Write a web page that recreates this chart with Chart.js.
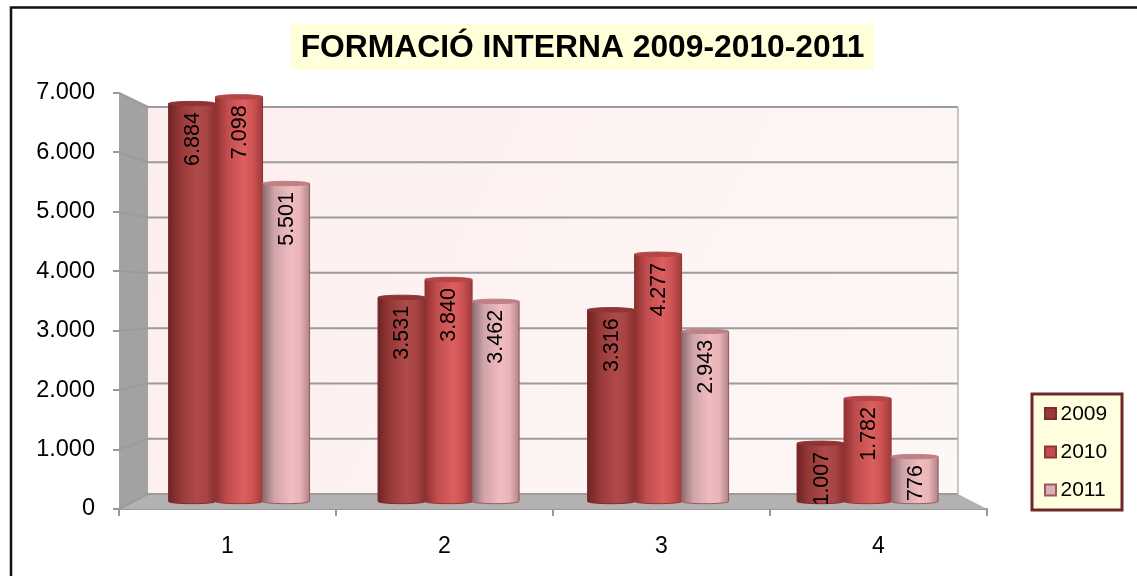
<!DOCTYPE html>
<html><head><meta charset="utf-8">
<style>html,body{margin:0;padding:0;background:#fff}#w{width:1137px;height:576px}</style>
<script src="https://cdn.jsdelivr.net/npm/chart.js@4"></script></head>
<body><div id="w"><canvas id="c" width="1137" height="576"></canvas></div>
<script>
const categories = ['1','2','3','4'];
const years = ['2009','2010','2011'];
const values2009 = [6884,3531,3316,1007];
const values2010 = [7098,3840,4277,1782];
const values2011 = [5501,3462,2943,776];
const yTicks = [0,1000,2000,3000,4000,5000,6000,7000];
const titleText = 'FORMACIÓ INTERNA 2009-2010-2011';

const fmt = v => String(v).replace(/\B(?=(\d{3})+$)/g,'.');
const FONT = '"Liberation Sans", Arial, sans-serif';
const shades = [
  {base:'#9c3a3a',stops:['#6e2424','#963838','#b04a4a','#a84444','#8a3030'],edge:'#7e2c2c',cap:'#8f3434'},
  {base:'#c44e4e',stops:['#8e3030','#c04c4c','#dd5f5f','#cc5252','#a03a3a'],edge:'#963434',cap:'#b54646'},
  {base:'#dcb0b4',stops:['#8a6a6c','#d0a4a8','#f0bcc0','#eab4b8','#b08488'],edge:'#9a5a60',cap:'#c08086'}
];
const backTop=107, backBottom=494, backLeft=148, backRight=958;

const scene = {
  id:'scene',
  beforeDraw(chart){
    const {ctx,width}=chart;
    ctx.save();
    ctx.fillStyle='#fff';ctx.fillRect(0,0,width,576);
    ctx.strokeStyle='#111';ctx.lineWidth=2.5;
    ctx.beginPath();ctx.moveTo(11,576);ctx.lineTo(11,7.5);ctx.lineTo(1137,7.5);ctx.stroke();
    // title
    ctx.font='bold 31.8px '+FONT;
    ctx.fillStyle='#ffffd9';ctx.fillRect(291,24,583,46);
    ctx.fillStyle='#000';ctx.textAlign='center';ctx.textBaseline='middle';
    ctx.fillText(titleText,582.5,48);
    // legend box
    ctx.fillStyle='#ffffe0';ctx.strokeStyle='#6e2a2a';ctx.lineWidth=3;
    ctx.fillRect(1032,394,90,116);ctx.strokeRect(1032,394,90,116);
    [413.5,452,490].forEach((cy,i)=>{
      const s=shades[i];
      ctx.fillStyle=s.base;ctx.strokeStyle=s.edge;ctx.lineWidth=2;
      ctx.fillRect(1045,cy-5.5,11,11);ctx.strokeRect(1045,cy-5.5,11,11);
    });
    const l=chart.legend;
    if(l){const w=l.width,h=l.height;l.left=1027;l.right=1027+w;l.top=386.5;l.bottom=386.5+h;}
    ctx.restore();
  },
  beforeDatasetsDraw(chart){
    const {ctx,chartArea:a,scales:{y}}=chart;
    const f=v=>y.getPixelForValue(v);
    const b=v=>backBottom+(backTop-backBottom)*v/7000;
    ctx.save();
    const g=ctx.createLinearGradient(backLeft,backTop,backRight,backBottom);
    g.addColorStop(0,'#fdeeee');g.addColorStop(.5,'#fdf3f2');g.addColorStop(1,'#fdf7f6');
    ctx.fillStyle=g;ctx.fillRect(backLeft,backTop,backRight-backLeft,backBottom-backTop);
    // left wall
    ctx.fillStyle='#a3a1a1';ctx.beginPath();ctx.moveTo(a.left,f(7000));ctx.lineTo(backLeft,backTop);ctx.lineTo(backLeft,backBottom);ctx.lineTo(a.left,f(0));ctx.closePath();ctx.fill();
    // floor
    ctx.fillStyle='#b3b1b1';ctx.beginPath();ctx.moveTo(a.left,f(0));ctx.lineTo(backLeft,backBottom);ctx.lineTo(backRight,backBottom);ctx.lineTo(a.right,f(0));ctx.closePath();ctx.fill();
    ctx.strokeStyle='#9b9b9b';ctx.lineWidth=2;
    yTicks.forEach(v=>{
      ctx.beginPath();ctx.moveTo(a.left,f(v));ctx.lineTo(backLeft,b(v));ctx.lineTo(backRight,b(v));ctx.stroke();
    });
    ctx.lineWidth=1.5;ctx.strokeStyle='#b5b5b5';
    ctx.beginPath();ctx.moveTo(backRight,backTop);ctx.lineTo(backRight,backBottom);ctx.stroke();
    ctx.restore();
  },
  afterDatasetsDraw(chart){
    const {ctx,scales:{y1}}=chart;
    const topLimit=y1.getPixelForValue(7000), base=y1.getPixelForValue(0), ry=2.2;
    ctx.save();
    const rows=chart.data.datasets.map((d,i)=>chart.getDatasetMeta(i).data);
    categories.forEach((_,ci)=>rows.forEach((row,si)=>{
      const el=row[ci], s=shades[si];
      const hw=el.width/2, x0=el.x-hw, x1=el.x+hw, top=Math.max(el.y,topLimit);
      const g=ctx.createLinearGradient(x0,0,x1,0);
      s.stops.forEach((c,k)=>g.addColorStop([0,.25,.6,.8,1][k],c));
      ctx.fillStyle=g;ctx.strokeStyle=s.edge;ctx.lineWidth=1;
      ctx.beginPath();ctx.moveTo(x0,top);ctx.lineTo(x0,base);
      ctx.ellipse(el.x,base,hw,ry,0,Math.PI,0,true);
      ctx.lineTo(x1,top);ctx.closePath();ctx.fill();ctx.stroke();
      ctx.fillStyle=s.cap;ctx.strokeStyle=s.cap;ctx.beginPath();ctx.ellipse(el.x,top,hw,ry,0,0,Math.PI*2);ctx.fill();ctx.stroke();
    }));
    rows.forEach((row,si)=>row.forEach((el,ci)=>{
      const top=Math.max(el.y,topLimit);
      ctx.save();ctx.translate(el.x,top+8.5);ctx.rotate(-Math.PI/2);
      ctx.font='21.5px '+FONT;ctx.fillStyle='#000';ctx.textAlign='right';ctx.textBaseline='middle';
      ctx.fillText(fmt(chart.data.datasets[si].data[ci].y),0,1);
      ctx.restore();
    }));
    ctx.restore();
  }
};

const mk=(label,vals,i)=>({label,data:vals.map((y,k)=>({x:k+1,y})),backgroundColor:shades[i].base,
  borderColor:shades[i].edge,borderWidth:1,xAxisID:'xb',yAxisID:'y1',
  barThickness:47,clip:{left:false,right:false,top:-4,bottom:false}});

const chart=new Chart(document.getElementById('c'),{
  type:'bar',
  data:{labels:categories,datasets:[mk(years[0],values2009,0),mk(years[1],values2010,1),mk(years[2],values2011,2)]},
  plugins:[scene],
  options:{
    responsive:false,animation:false,
    layout:{padding:{top:93,right:20,bottom:0,left:0}},
    plugins:{
      title:{display:false},tooltip:{enabled:false},
      legend:{display:true,position:'right',align:'start',
        labels:{boxWidth:6,boxHeight:6,padding:17,color:'#000',font:{family:FONT,size:21},
          generateLabels(c){return Chart.defaults.plugins.legend.labels.generateLabels(c).map(o=>({...o,fillStyle:'rgba(0,0,0,0)',strokeStyle:'rgba(0,0,0,0)',lineWidth:0}));}}}
    },
    scales:{
      x:{type:'category',position:'bottom',offset:true,
        grid:{offset:true,drawOnChartArea:false,color:'#999',lineWidth:2,tickLength:7},
        border:{color:'#999',width:2},
        ticks:{color:'#000',font:{family:FONT,size:23},padding:17,maxRotation:0},
        afterFit(s){s.height=67;}},
      xb:{type:'linear',display:false,offset:false,min:0.427,max:4.57},
      y:{type:'linear',position:'left',min:0,max:7000,
        grid:{drawOnChartArea:false,color:'#999',lineWidth:2,tickLength:6},
        border:{color:'#999',width:0},
        ticks:{stepSize:1000,color:'#000',font:{family:FONT,size:23.5},padding:18,callback:v=>fmt(v)},
        afterFit(s){s.width=119;}},
      y1:{type:'linear',display:false,min:-130,max:7067}
    }
  }
});
chart.options.layout.padding.right=150-chart.legend.width;
chart.update();
</script></body></html>
